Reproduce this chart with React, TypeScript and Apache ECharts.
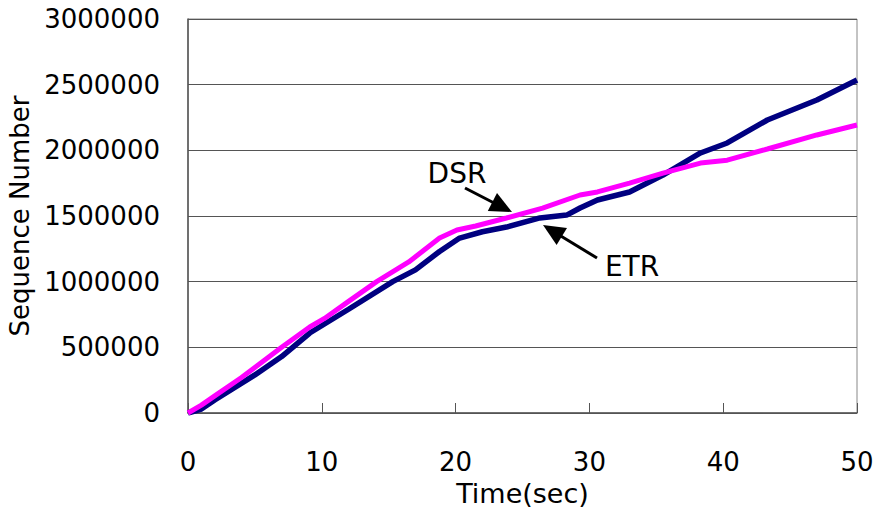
import React, { useEffect, useRef } from "react";
import * as echarts from "echarts";

const dsrTime = [0, 1, 2, 4, 7, 9.1, 10.2, 12, 14.1, 16.5, 18.8, 20.1, 21.5, 23.8, 26.5, 29.3, 30.6, 33, 35.5, 38.3, 40.3, 43.3, 47, 50];
const dsrSeq = [0, 60000, 130000, 270000, 500000, 655000, 720000, 850000, 1000000, 1150000, 1332000, 1393000, 1424000, 1485000, 1560000, 1660000, 1683000, 1751000, 1827000, 1903000, 1925000, 2010000, 2117000, 2193000];

const etrTime = [0, 1, 2, 5, 7, 9.1, 12, 15.3, 17, 18.8, 20.3, 22, 23.8, 26.3, 28.3, 29.3, 30.6, 33, 35.5, 38.3, 40.3, 43.3, 47, 50];
const etrSeq = [0, 30000, 100000, 290000, 430000, 609000, 790000, 1000000, 1090000, 1230000, 1332000, 1380000, 1416000, 1485000, 1507000, 1561000, 1622000, 1683000, 1812000, 1980000, 2056000, 2231000, 2383000, 2535000];

const xTicks = [0, 10, 20, 30, 40, 50];
const yTicks = [0, 500000, 1000000, 1500000, 2000000, 2500000, 3000000];

const FONT = "DejaVu Sans";

export default function App() {
  const ref = useRef<HTMLDivElement>(null);
  useEffect(() => {
    if (!ref.current) return;
    const chart = echarts.init(ref.current, null, { renderer: "svg" });
    const dsr = dsrTime.map((t, i) => [t, dsrSeq[i]]);
    const etr = etrTime.map((t, i) => [t, etrSeq[i]]);
    chart.setOption({
      animation: false,
      backgroundColor: "#ffffff",
      grid: {
        left: 188,
        right: 18,
        top: 19,
        bottom: 95,
        containLabel: false,
        outerBoundsMode: "none",
        show: true,
        borderColor: "#888888",
        borderWidth: 1,
      },
      xAxis: {
        type: "value",
        min: xTicks[0],
        max: xTicks[xTicks.length - 1],
        interval: 10,
        name: "Time(sec)",
        nameLocation: "middle",
        nameGap: 59,
        nameTextStyle: { fontFamily: FONT, fontSize: 27, color: "#000" },
        axisLine: { show: true, lineStyle: { color: "#555555", width: 1.5 } },
        axisTick: { show: true, inside: true, length: 10, lineStyle: { color: "#555555" } },
        axisLabel: { fontFamily: FONT, fontSize: 26, color: "#000", margin: 36 },
        splitLine: { show: false },
      },
      yAxis: {
        type: "value",
        min: yTicks[0],
        max: yTicks[yTicks.length - 1],
        interval: 500000,
        name: "Sequence Number",
        nameLocation: "middle",
        nameGap: 148,
        nameTextStyle: { fontFamily: FONT, fontSize: 26, color: "#000" },
        axisLine: { show: true, lineStyle: { color: "#555555", width: 1.5 } },
        axisTick: { show: false },
        axisLabel: {
          fontFamily: FONT,
          fontSize: 26,
          color: "#000",
          margin: 28,
          formatter: (v: number) => String(v),
        },
        splitLine: { show: true, lineStyle: { color: "#555555", width: 1 } },
      },
      series: [
        {
          name: "ETR",
          type: "line",
          data: etr,
          showSymbol: false,
          lineStyle: { color: "#000080", width: 5.5 },
          z: 2,
        },
        {
          name: "DSR",
          type: "line",
          data: dsr,
          showSymbol: false,
          lineStyle: { color: "#ff00ff", width: 5 },
          z: 3,
        },
      ],
      graphic: [
        {
          type: "text",
          x: 457,
          y: 173,
          style: { text: "DSR", fontFamily: FONT, fontSize: 28, fill: "#000", align: "center", verticalAlign: "middle" },
          z: 10,
        },
        {
          type: "line",
          shape: { x1: 465, y1: 188, x2: 496, y2: 204 },
          style: { stroke: "#000", lineWidth: 3 },
          z: 10,
        },
        {
          type: "polygon",
          shape: { points: [[512, 212], [487.8, 210.9], [497, 193.1]] },
          style: { fill: "#000" },
          z: 10,
        },
        {
          type: "text",
          x: 632,
          y: 266,
          style: { text: "ETR", fontFamily: FONT, fontSize: 28, fill: "#000", align: "center", verticalAlign: "middle" },
          z: 10,
        },
        {
          type: "line",
          shape: { x1: 597, y1: 258, x2: 560, y2: 235.5 },
          style: { stroke: "#000", lineWidth: 3 },
          z: 10,
        },
        {
          type: "polygon",
          shape: { points: [[543, 225], [567, 228], [556.6, 245]] },
          style: { fill: "#000" },
          z: 10,
        },
      ],
    });
    return () => chart.dispose();
  }, []);
  return <div ref={ref} style={{ width: 875, height: 508, position: "absolute", left: 0, top: 0 }} />;
}
